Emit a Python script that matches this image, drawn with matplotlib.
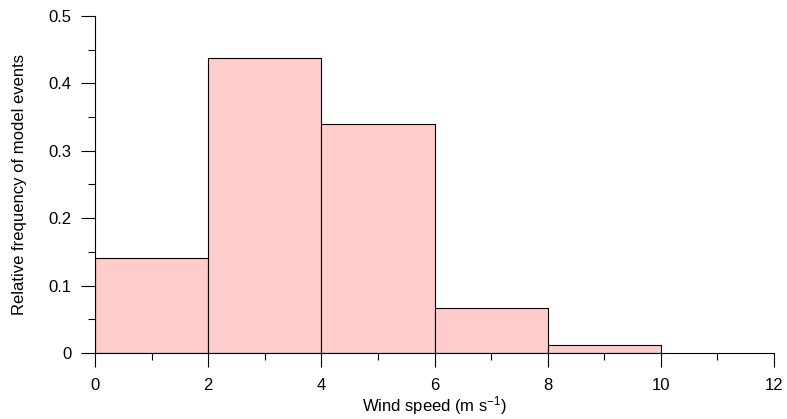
import matplotlib
matplotlib.use("Agg")
import matplotlib.pyplot as plt
from matplotlib.ticker import MultipleLocator

bin_edges = [0, 2, 4, 6, 8, 10]
frequencies = [0.141, 0.438, 0.340, 0.067, 0.012]

plt.rcParams['font.family'] = ['Liberation Sans', 'DejaVu Sans']
plt.rcParams['font.size'] = 12
plt.rcParams['mathtext.fontset'] = 'custom'
plt.rcParams['mathtext.rm'] = 'Liberation Sans'
plt.rcParams['mathtext.it'] = 'Liberation Sans'
plt.rcParams['mathtext.default'] = 'regular'

fig = plt.figure(figsize=(7.87, 4.19), dpi=100)
ax = fig.add_axes([95/787, 1 - 353/419, (774 - 95)/787, (353 - 16)/419])

lefts = bin_edges[:-1]
widths = [b - a for a, b in zip(bin_edges[:-1], bin_edges[1:])]
ax.bar(lefts, frequencies, width=widths, align='edge', color='#FFCCCC',
       edgecolor='black', linewidth=0.8, zorder=2)

ax.set_xlim(0, 12)
ax.set_ylim(0, 0.5)
ax.xaxis.set_minor_locator(MultipleLocator(1))
ax.yaxis.set_minor_locator(MultipleLocator(0.05))
ax.set_xticks([0, 2, 4, 6, 8, 10, 12])
ax.set_xticklabels(['0', '2', '4', '6', '8', '10', '12'])
ax.set_yticks([0, 0.1, 0.2, 0.3, 0.4, 0.5])
ax.set_yticklabels(['0', '0.1', '0.2', '0.3', '0.4', '0.5'])

for s in ['top', 'right']:
    ax.spines[s].set_visible(False)
for s in ['left', 'bottom']:
    ax.spines[s].set_linewidth(0.8)

ax.tick_params(axis='both', which='major', direction='out', length=10, width=0.8)
ax.tick_params(axis='both', which='minor', direction='out', length=5, width=0.8)
ax.tick_params(axis='y', which='major', pad=7)
ax.tick_params(axis='x', which='major', pad=8)

ax.set_xlabel('Wind speed (m s$^{-1}$)', labelpad=1)
ax.set_ylabel('Relative frequency of model events', labelpad=15)

fig.savefig('out.png', dpi=100)
